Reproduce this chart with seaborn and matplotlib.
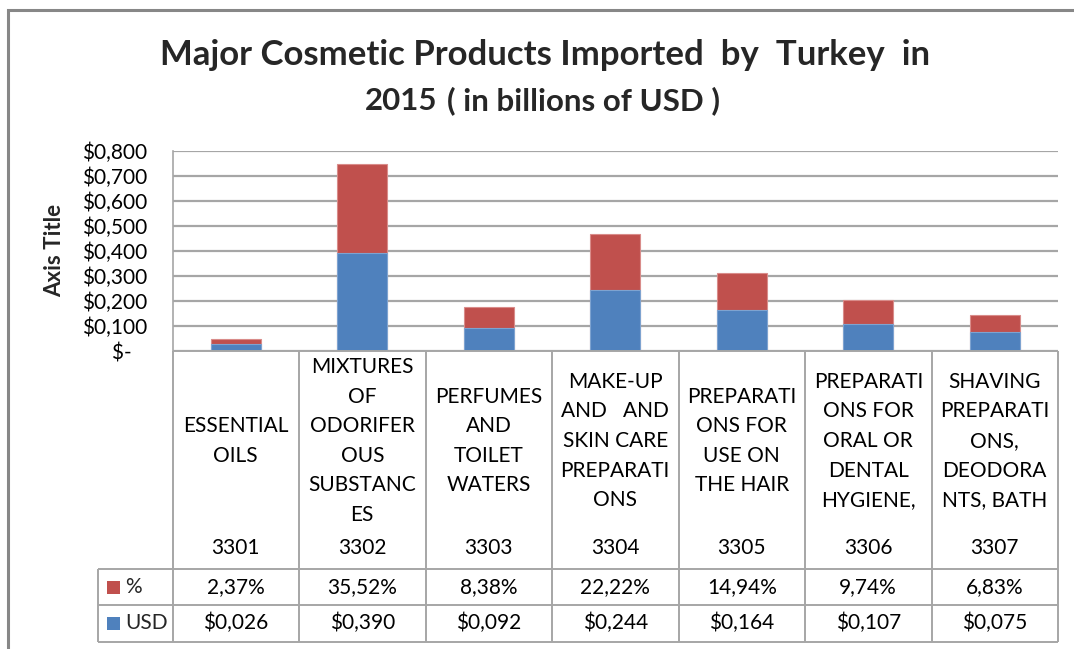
import matplotlib
matplotlib.use("Agg")
import matplotlib.pyplot as plt
import matplotlib.transforms as mtransforms
from matplotlib.patches import Rectangle
from matplotlib.ticker import FuncFormatter, MultipleLocator
import seaborn as sns
import pandas as pd

# HS codes, product descriptions (wrapped as in the data table) and values
codes = ["3301", "3302", "3303", "3304", "3305", "3306", "3307"]
products = [
    "ESSENTIAL\nOILS",
    "MIXTURES\nOF\nODORIFER\nOUS\nSUBSTANC\nES",
    "PERFUMES\nAND\nTOILET\nWATERS",
    "MAKE-UP\nAND   AND\nSKIN CARE\nPREPARATI\nONS",
    "PREPARATI\nONS FOR\nUSE ON\nTHE HAIR",
    "PREPARATI\nONS FOR\nORAL OR\nDENTAL\nHYGIENE,",
    "SHAVING\nPREPARATI\nONS,\nDEODORA\nNTS, BATH",
]
usd = [0.026, 0.390, 0.092, 0.244, 0.164, 0.107, 0.075]
pct = [2.37, 35.52, 8.38, 22.22, 14.94, 9.74, 6.83]

BLUE = "#4F81BD"
RED = "#C0504D"
GRID = "#A6A6A6"
FS = 15

sns.set_theme(style="white")
plt.rcParams["font.family"] = ["Lato", "DejaVu Sans"]

df = pd.DataFrame({"code": codes, "usd": usd, "pct": pct})
df["share"] = df["pct"] / 100.0
df["stack_top"] = df["usd"] + df["share"]

W, H = 1074, 649
fig = plt.figure(figsize=(W / 100, H / 100), dpi=100)
fig.patch.set_facecolor("white")


def fx(px):
    return px / W


def fy(py):
    return 1 - py / H


left, right, top, zero = 172.5, 1058, 150.7, 351
ax = fig.add_axes([fx(left), fy(zero), fx(right - left), (zero - top) / H])

# stacked bars: full stack in red, USD part in blue on top of it
sns.barplot(data=df, x="code", y="stack_top", order=codes, color=RED,
            width=0.395, saturation=1, ax=ax, edgecolor="#D98C8A", linewidth=0.8)
sns.barplot(data=df, x="code", y="usd", order=codes, color=BLUE,
            width=0.395, saturation=1, ax=ax, edgecolor="#7EA3D0", linewidth=0.8)

ax.set_xlim(-0.5, len(codes) - 0.5)
ax.set_ylim(0, 0.8)
ax.yaxis.set_major_locator(MultipleLocator(0.1))
ax.yaxis.set_major_formatter(FuncFormatter(
    lambda v, _: "$-   " if abs(v) < 1e-9 else ("$" + f"{v:.3f}".replace(".", ","))))
ax.tick_params(axis="y", labelsize=FS, colors="black", length=0, pad=18)
ax.set_xticks([])
ax.set_xlabel("")
ax.set_ylabel("")
ax.grid(axis="y", color=GRID, linewidth=1.6)
ax.set_axisbelow(True)
for s in ["top", "right", "bottom"]:
    ax.spines[s].set_visible(False)
ax.spines["left"].set_color(GRID)
ax.spines["left"].set_linewidth(1.2)
for lab in ax.get_yticklabels():
    lab.set_horizontalalignment("right")

fig.text(fx(55), fy(250), "Axis Title", rotation=90, ha="center", va="center",
         fontsize=16, fontweight="bold")

# title: first line, then the year followed by the unit note
fig.text(fx(545), fy(55), "Major Cosmetic Products Imported  by  Turkey  in",
         ha="center", va="center", fontsize=25, fontweight="bold")
fig.text(fx(437), fy(110), "2015", ha="right", va="baseline",
         fontsize=22.5, fontweight="bold")
fig.text(fx(447), fy(110), "( in billions of USD )", ha="left", va="baseline",
         fontsize=22.5, fontweight="bold")

# data table beneath the axis
tr = mtransforms.blended_transform_factory(ax.transData, fig.transFigure)
row1, row2, row3 = 569, 605, 642
lkw = dict(color=GRID, linewidth=1.4, solid_capstyle="butt")
fig.add_artist(plt.Line2D([fx(left), fx(right)], [fy(zero)] * 2, **lkw))
for yy in (row1, row2, row3):
    fig.add_artist(plt.Line2D([fx(98), fx(right)], [fy(yy)] * 2, **lkw))
for k in range(len(codes) + 1):
    xb = k - 0.5
    fig.add_artist(plt.Line2D([xb, xb], [fy(zero), fy(row3)], transform=tr, **lkw))
fig.add_artist(plt.Line2D([fx(98)] * 2, [fy(row1), fy(row3)], **lkw))

tkw = dict(ha="center", va="center", fontsize=FS, color="black")
for i, (name, code, p, u) in enumerate(zip(products, codes, pct, usd)):
    fig.text(i, fy(441), name, transform=tr, linespacing=1.6, **tkw)
    fig.text(i, fy(548), code, transform=tr, **tkw)
    fig.text(i, fy(587), f"{p:.2f}%".replace(".", ","), transform=tr, **tkw)
    fig.text(i, fy(623), "$" + f"{u:.3f}".replace(".", ","), transform=tr, **tkw)

# legend keys inside the table
for yy, col, lab in ((587, RED, "%"), (623, BLUE, "USD")):
    fig.add_artist(Rectangle((fx(107), fy(yy + 6.5)), fx(13), 13 / H,
                             facecolor=col, edgecolor="none"))
    fig.text(fx(125), fy(yy), lab, ha="left", va="center", fontsize=FS)

# chart frame
fig.add_artist(Rectangle((fx(8), fy(700)), fx(1200), (700 - 10) / H, fill=False,
                         edgecolor="#878787", linewidth=2.2))

fig.savefig("out.png", dpi=100, facecolor="white")
